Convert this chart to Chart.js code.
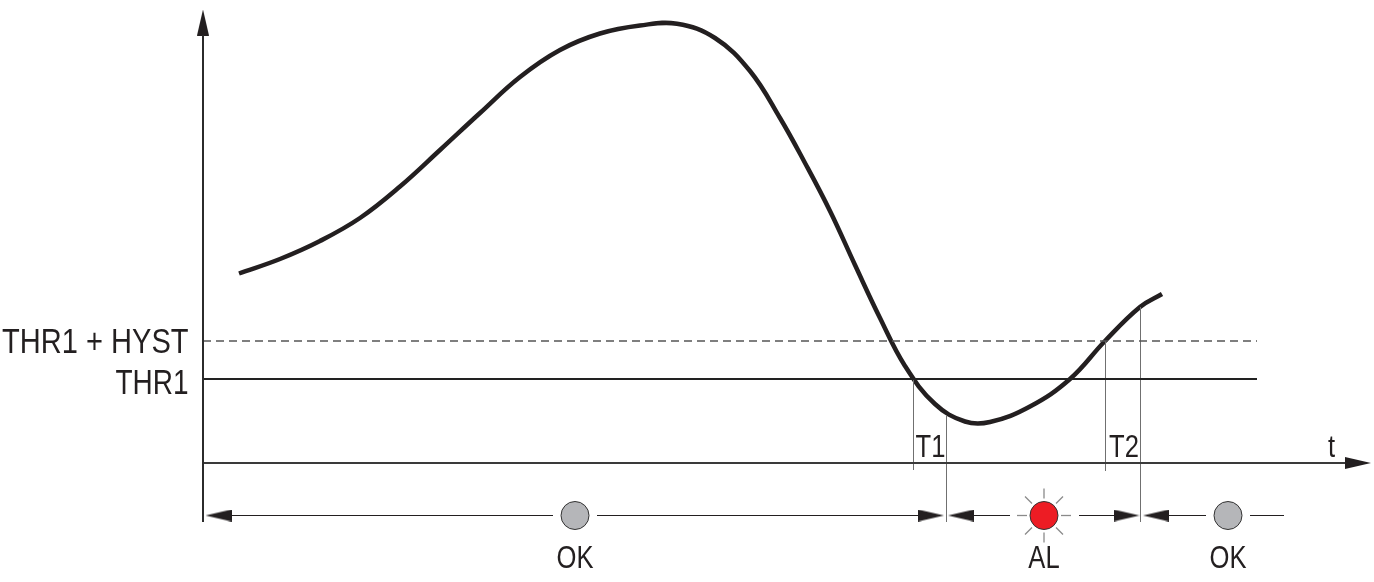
<!DOCTYPE html>
<html><head><meta charset="utf-8">
<style>html,body{margin:0;padding:0;background:#fff}canvas{display:block}</style>
<script src="https://cdn.jsdelivr.net/npm/chart.js@4"></script></head>
<body><canvas id="c" width="1374" height="582"></canvas>
<script>
// x = time units from the vertical axis, y = signal height above the time axis
const curveX=[36,77,117,157,197,237,277,317,357,397,437,474,512,547,577,602,627,652,677,702,732,762,787,827,867,902,937,959];
const curveY=[189.5,204,222,245,276.5,313,350,386,413,429.5,437.5,439.3,425,392,345,300,252,198,145,97,59,41.5,41,56.5,84,122,156,169];
const thr1=84, thrHyst=122, lineEnd=1054, axisEnd=1142, axisBottom=-59, axisTop=428;
const stateX=[372,841,1025], stateColors=["#b5b6b9","#ed1c24","#b5b6b9"];
const stateRow=-52.5;
const rowSegments=[[28,350],[394,717],[771,807],[876,911],[966,1003],[1047,1081]];
const dropX=[710.5,743.5,902.5,937.5], dropTop=[84,48,122,156], dropBottom=[-7,-59,-8,-59];
const headX=[0,1155,15.5,728,758,923.5,953], headY=[440.5,0,stateRow,stateRow,stateRow,stateRow,stateRow], headAngle=[-90,0,180,0,180,0,180];
const rayInner=[[-27,0],[-19,-19],[0,-27],[19,-19],[27,0],[19,19],[0,27],[-19,19]];
const rayOuter=[[-17,0],[-12,-12],[0,-17],[12,-12],[17,0],[12,12],[0,17],[-12,12]];
const textLabels=["THR1 + HYST","THR1","T1","T2","t","OK","AL","OK"];
const textX=[-14.5,-14.5,727.5,921,1128.5,372,841,1025];
const textY=[110,69,6,6,6,-105,-105,-105];
const textSize=[35,35,32,32,32,32,32,32];
const textSqueeze=[0.83,0.8,0.8,0.8,0.8,0.8,0.8,0.8];
const textAlign=["right","right","center","center","center","center","center","center"];

const head=document.createElement('canvas');head.width=26;head.height=12;
const hc=head.getContext('2d');hc.fillStyle='#231f20';hc.beginPath();hc.moveTo(0,0);hc.lineTo(26,6);hc.lineTo(0,12);hc.closePath();hc.fill();

function seg(x0,y0,x1,y1,color,width,dash){return {data:[{x:x0,y:y0},{x:x1,y:y1}],borderColor:color,borderWidth:width,borderDash:dash||[],pointRadius:0,showLine:true,clip:false,tension:0};}
const datasets=[];
datasets.push(seg(0,axisBottom,0,axisTop,'#2b2b2b',2));
datasets.push(seg(0,0,axisEnd,0,'#3a3a3a',2));
datasets.push(seg(0,thr1,lineEnd,thr1,'#222',2));
datasets.push(seg(0,thrHyst,lineEnd,thrHyst,'#555',1.3,[8,5]));
dropX.forEach((x,i)=>datasets.push(seg(x,dropBottom[i],x,dropTop[i],'#707070',1)));
rowSegments.forEach(s=>datasets.push(seg(s[0],stateRow,s[1],stateRow,'#231f20',1)));
rayInner.forEach((r,i)=>datasets.push(seg(stateX[1]+r[0],stateRow+r[1],stateX[1]+rayOuter[i][0],stateRow+rayOuter[i][1],'#8a8a8a',1.3)));
datasets.push({data:curveX.map((x,i)=>({x,y:curveY[i]})),borderColor:'#231f20',borderWidth:4.5,pointRadius:0,showLine:true,tension:0.4,clip:false,borderCapStyle:'butt'});
datasets.push({data:headX.map((x,i)=>({x,y:headY[i]})),showLine:false,pointStyle:head,pointRadius:6,pointRotation:headAngle,clip:false});
datasets.push({data:stateX.map(x=>({x,y:stateRow})),showLine:false,pointStyle:'circle',pointRadius:14,pointBackgroundColor:stateColors,pointBorderColor:'#333',pointBorderWidth:1,clip:false});

const FONT='"Liberation Sans",Arial,sans-serif';
new Chart(document.getElementById('c'),{
 type:'scatter',
 data:{datasets},
 plugins:[{id:'inlineText',afterDatasetsDraw(ch){
  const c=ch.ctx,xs=ch.scales.x,ys=ch.scales.y;
  textLabels.forEach((t,i)=>{
   c.save();c.fillStyle='#231f20';c.font=textSize[i]+'px '+FONT;c.textAlign=textAlign[i];c.textBaseline='alphabetic';
   c.translate(xs.getPixelForValue(textX[i]),ys.getPixelForValue(textY[i]));
   c.scale(textSqueeze[i],1);c.fillText(t,0,0);c.restore();
  });
 }}],
 options:{
  responsive:false,animation:false,events:[],
  layout:{autoPadding:false,padding:{left:203,bottom:42,top:0,right:0}},
  plugins:{legend:{display:false},tooltip:{enabled:false},title:{display:false}},
  scales:{
   x:{type:'linear',min:0,max:1171,display:false},
   y:{type:'linear',min:-77,max:463,display:false}
  }
 }
});
</script></body></html>
